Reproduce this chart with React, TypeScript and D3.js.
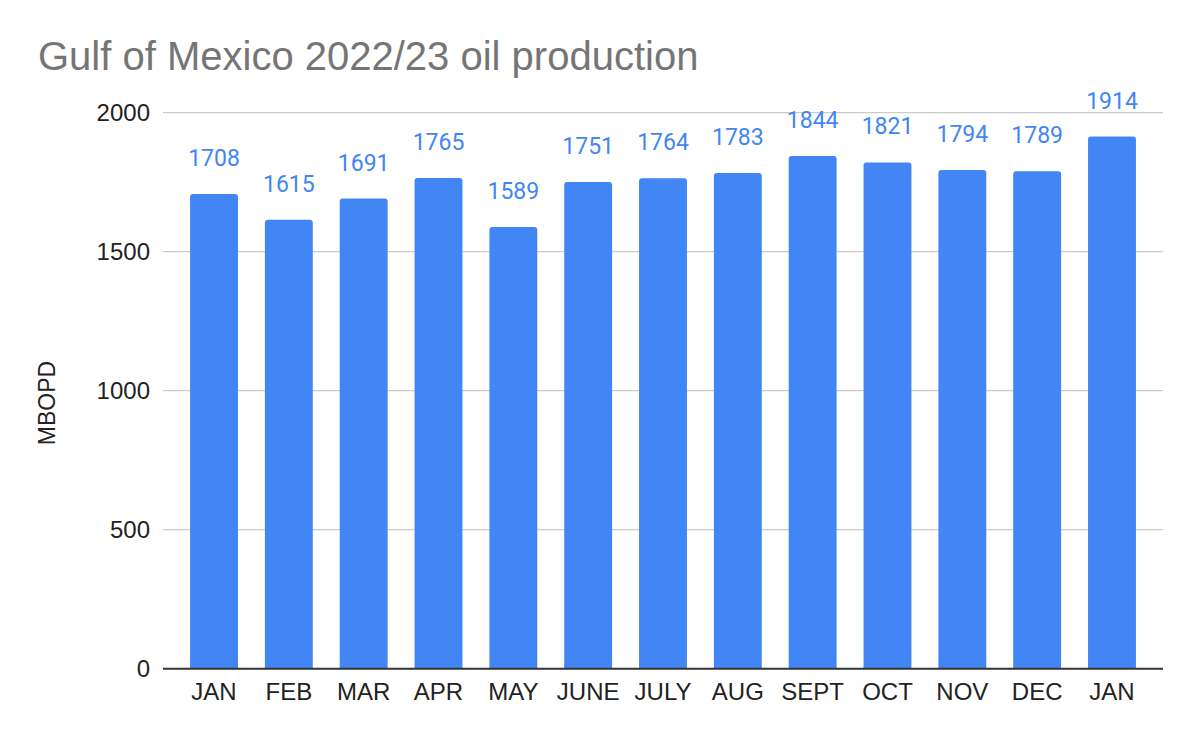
import React from "react";
import * as d3 from "d3";

const months = ["JAN", "FEB", "MAR", "APR", "MAY", "JUNE", "JULY", "AUG", "SEPT", "OCT", "NOV", "DEC", "JAN"];
const production = [1708, 1615, 1691, 1765, 1589, 1751, 1764, 1783, 1844, 1821, 1794, 1789, 1914];
const yTicks = [0, 500, 1000, 1500, 2000];

const W = 1200;
const H = 742;
const plotLeft = 163;
const plotRight = 1163;
const yTop = 112.7;
const yBottom = 668.7;

export default function App() {
  const keys = months.map((m, i) => `${m}-${i}`);
  const x = d3.scaleBand<string>().domain(keys).range([176.6, 1149.4]).paddingInner(0.36).paddingOuter(0.18);
  const y = d3.scaleLinear().domain([0, 2000]).range([yBottom, yTop]);
  const bw = x.bandwidth();
  const r = 3;

  const barPath = (x0: number, y0: number, w: number, h: number) => {
    const rr = Math.min(r, h);
    return `M${x0},${y0 + h}V${y0 + rr}Q${x0},${y0} ${x0 + rr},${y0}H${x0 + w - rr}Q${x0 + w},${y0} ${x0 + w},${y0 + rr}V${y0 + h}Z`;
  };

  return (
    <svg width={W} height={H} style={{ position: "absolute", left: 0, top: 0, background: "#fff" }}>
      <rect width={W} height={H} fill="#fff" />
      <text x={38} y={70} fontFamily="'Liberation Sans', Arial, sans-serif" fontSize={40} fill="#757575">
        Gulf of Mexico 2022/23 oil production
      </text>
      {yTicks.filter((t) => t > 0).map((t) => (
        <line key={t} x1={plotLeft} x2={plotRight} y1={y(t)} y2={y(t)} stroke="#cccccc" strokeWidth={1.3} />
      ))}
      {yTicks.map((t) => (
        <text key={"l" + t} x={150} y={y(t)} dy="0.35em" textAnchor="end" fontFamily="'Liberation Sans', Arial, sans-serif" fontSize={24} fill="#222">
          {t}
        </text>
      ))}
      <text transform={`translate(55,403) rotate(-90)`} textAnchor="middle" fontFamily="'Liberation Sans', Arial, sans-serif" fontSize={23} fill="#222">
        MBOPD
      </text>
      {production.map((v, i) => {
        const x0 = x(keys[i]) as number;
        const y0 = y(v);
        return (
          <g key={keys[i]}>
            <path d={barPath(x0, y0, bw, yBottom - y0)} fill="#4285f4" />
            <text x={x0 + bw / 2} y={y0 - 28} textAnchor="middle" fontFamily="Roboto, sans-serif" fontSize={23} fill="#4285f4">
              {v}
            </text>
            <text x={x0 + bw / 2} y={yBottom + 31} textAnchor="middle" fontFamily="'Liberation Sans', Arial, sans-serif" fontSize={24} fill="#222">
              {months[i]}
            </text>
          </g>
        );
      })}
      <line x1={plotLeft} x2={plotRight} y1={yBottom} y2={yBottom} stroke="#333" strokeWidth={2} />
    </svg>
  );
}
